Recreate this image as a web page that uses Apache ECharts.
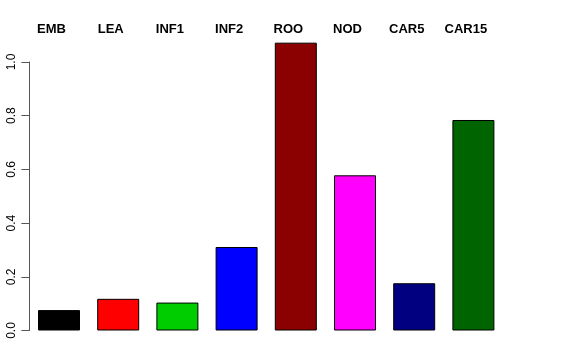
<!DOCTYPE html>
<html>
<head>
<meta charset="utf-8">
<script src="https://cdn.jsdelivr.net/npm/echarts@6/dist/echarts.min.js"></script>
<style>html,body{margin:0;padding:0;background:#fff}#c{width:576px;height:360px}</style>
</head>
<body>
<div id="c"></div>
<script>
var categories = ['EMB', 'LEA', 'INF1', 'INF2', 'ROO', 'NOD', 'CAR5', 'CAR15'];
var values = [0.076, 0.118, 0.104, 0.311, 1.072, 0.578, 0.176, 0.784];
var barColors = ['#000000', '#FF0000', '#00CD00', '#0000FF', '#8B0000', '#FF00FF', '#000080', '#006400'];
var yTicks = [0, 0.2, 0.4, 0.6, 0.8, 1.0];

var pxPerUnit = 268.5;
var bottom = 29.5;
var barMax = 1.1;
var chart = echarts.init(document.getElementById('c'), null, {renderer: 'canvas'});
chart.setOption({
  animation: false,
  backgroundColor: '#ffffff',
  grid: [
    {left: 29.4, width: 473.6, bottom: bottom, top: 360 - bottom - barMax * pxPerUnit},
    {left: 29.4, width: 473.6, bottom: bottom, top: 360 - bottom - yTicks[yTicks.length - 1] * pxPerUnit}
  ],
  xAxis: [
    {type: 'category', gridIndex: 0, data: categories, position: 'top', z: 10,
     axisLine: {show: false}, axisTick: {show: false},
     axisLabel: {show: true, fontFamily: 'Liberation Sans', fontWeight: 'bold', fontSize: 13,
                 color: '#000', margin: 6, padding: [0, 15, 0, 0], verticalAlign: 'middle'}},
    {type: 'category', gridIndex: 1, data: categories, show: false}
  ],
  yAxis: [
    {type: 'value', gridIndex: 0, min: 0, max: barMax, show: false},
    {type: 'value', gridIndex: 1, min: 0, max: yTicks[yTicks.length - 1], interval: 0.2,
     axisLine: {show: true, lineStyle: {color: '#555', width: 1}},
     axisTick: {show: true, length: 8, lineStyle: {color: '#555'}},
     splitLine: {show: false},
     axisLabel: {rotate: 90, margin: 12, fontFamily: 'Liberation Sans', fontSize: 12, color: '#000',
                 formatter: function (v) { return v.toFixed(1); }}}
  ],
  series: [{
    type: 'bar', xAxisIndex: 0, yAxisIndex: 0,
    barWidth: 42,
    data: values.map(function (v, i) {
      return {value: v, itemStyle: {color: barColors[i], borderColor: '#000', borderWidth: 1}};
    })
  }]
});
</script>
</body>
</html>
